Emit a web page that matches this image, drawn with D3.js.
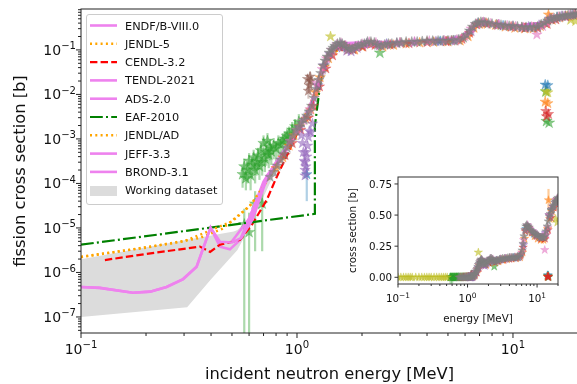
<!DOCTYPE html>
<html><head><meta charset="utf-8">
<script src="https://cdn.jsdelivr.net/npm/d3@7"></script>
<style>body{margin:0;background:#fff} text{font-family:"DejaVu Sans",sans-serif;fill:#111}</style>
</head><body><svg id="c" width="577" height="384"></svg>
<script>
// ---------- data (energy in MeV, cross section in b) ----------
const xTickExps = [-1, 0, 1];
const yTickExps = [-7, -6, -5, -4, -3, -2, -1];
const insetYTicks = [0, 0.25, 0.5, 0.75];
const evalNames = ['ENDF/B-VIII.0','JENDL-5','CENDL-3.2','TENDL-2021','ADS-2.0','EAF-2010','JENDL/AD','JEFF-3.3','BROND-3.1'];
const bandName = 'Working dataset';

// Working dataset uncertainty band
const fillE  = [0.1, 0.31, 0.4, 0.51, 0.53, 0.6, 0.7, 0.8, 1.0, 1.2, 1.5, 3, 6, 7, 12, 20];
const fillLo = [1.0e-7, 1.66e-7, 7e-7, 2.6e-6, 3.2e-6, 1e-5, 5e-5, 2e-4, 1.4e-3, 6e-3, 0.1, 0.13, 0.18, 0.38, 0.3, 0.58];
const fillHi = [1.98e-6, 5.4e-6, 6.8e-6, 8.3e-6, 9e-6, 1.6e-5, 1.2e-4, 3.4e-4, 2.2e-3, 1e-2, 0.13, 0.155, 0.23, 0.44, 0.34, 0.66];

// Evaluations
const endfE = [0.1,0.122,0.174,0.209,0.249,0.297,0.343,0.398,0.44,0.489,0.545,0.606,0.73,0.84,0.95,1.05,1.15,1.25,1.35,1.45,1.58,1.72,1.9,2.15,2.45,3,4,5,5.9,6.3,6.7,7.1,8,10,12,13,14,15,16,18,20];
const endfS = [4.7e-7,4.5e-7,3.5e-7,3.7e-7,4.7e-7,7.1e-7,1.35e-6,1.02e-5,3.8e-6,3.3e-6,5.4e-6,1.3e-5,1.55e-4,3.4e-4,1.0e-3,2.3e-3,4.5e-3,0.02,0.057,0.1,0.144,0.11,0.12,0.15,0.123,0.144,0.159,0.16,0.186,0.27,0.38,0.42,0.38,0.34,0.32,0.33,0.41,0.49,0.54,0.6,0.64];
const jendl5E = [0.1,0.2,0.355,0.45,0.505,0.56,0.624,0.7,0.83,0.95,1.1,1.25,1.4,1.6,2,3,5,6,7,10,14,20];
const jendl5S = [2.26e-6,3.6e-6,5.96e-6,9.5e-6,1.51e-5,2.3e-5,3.6e-5,9e-5,2.9e-4,9e-4,3e-3,0.02,0.08,0.14,0.13,0.145,0.16,0.2,0.41,0.34,0.41,0.64];
const cendlE = [0.129,0.2,0.355,0.396,0.44,0.545,0.62,0.725,0.8,0.91,1.0,1.2,1.4,1.6,2,3,5,6,7,10,14,20];
const cendlS = [1.9e-6,2.6e-6,3.8e-6,2.9e-6,4.2e-6,5.4e-6,1.2e-5,4.3e-5,1.3e-4,4.9e-4,1.3e-3,7.5e-3,0.08,0.14,0.13,0.145,0.16,0.2,0.41,0.34,0.41,0.64];
const tendlE = [0.5,0.6,0.7,0.8,0.9,1.0,1.2,1.4,1.6,2,3,5,6,7,10,14,20];
const tendlS = [5e-6,1.6e-5,1.1e-4,3e-4,7e-4,1.6e-3,8e-3,0.085,0.14,0.13,0.145,0.16,0.2,0.41,0.34,0.41,0.63];
const adsE = [0.55,0.65,0.75,0.85,1.0,1.2,1.4,1.6,2.2,3.5,5.5,6.5,7.2,9,12,15,20];
const adsS = [6e-6,4e-5,1.7e-4,4e-4,1.5e-3,7e-3,0.08,0.14,0.15,0.15,0.165,0.32,0.42,0.35,0.32,0.49,0.64];
const eafE = [0.1,1.21,1.21,1.3,1.45,1.6,2,3,5,6,7,10,14,20];
const eafS = [4.2e-6,2.07e-5,2.0e-3,0.03,0.1,0.14,0.13,0.145,0.16,0.2,0.41,0.34,0.41,0.64];
const jendlADE = [0.1,0.3,0.5,0.6,0.7,0.8,0.9,1.0,1.2,1.4,1.7,2.5,4,6,7,10,14,20];
const jendlADS = [2.2e-6,5e-6,1.4e-5,3e-5,8.5e-5,2.4e-4,6e-4,1.6e-3,8e-3,0.085,0.11,0.13,0.158,0.2,0.41,0.34,0.41,0.64];
const jeffE = [0.1,0.122,0.174,0.209,0.249,0.297,0.343,0.398,0.44,0.5,0.55,0.62,0.73,0.85,1.0,1.15,1.3,1.45,1.6,2,3,5,6,6.5,7,10,14,20];
const jeffS = [4.7e-7,4.5e-7,3.5e-7,3.7e-7,4.7e-7,7.1e-7,1.35e-6,1.02e-5,4.9e-6,4.7e-6,5.9e-6,1.5e-5,1.4e-4,3.6e-4,1.5e-3,4.8e-3,0.035,0.1,0.14,0.135,0.145,0.16,0.2,0.33,0.42,0.34,0.41,0.64];
const brondE = [0.6,0.7,0.8,0.9,1.0,1.1,1.3,1.5,1.8,2.5,4,6,6.8,8,11,14,20];
const brondS = [1.2e-5,9e-5,2.6e-4,6.5e-4,1.5e-3,3e-3,0.032,0.12,0.105,0.13,0.158,0.2,0.39,0.38,0.32,0.41,0.64];

// Experimental datasets
const greenE = [0.56,0.57,0.58,0.59,0.60,0.61,0.62,0.63,0.64,0.65,0.66,0.67,0.68,0.69,0.70,0.71,0.72,0.73,0.74,0.75,0.76,0.78,0.80,0.82,0.84,0.86,0.88,0.90,0.92,0.95,0.98,1.02,0.57,0.60,0.64,0.69,2.42,14.3,14.7,14.2];
const greenS = [1.6e-4,2.4e-4,1.3e-4,2.0e-4,3.2e-4,1.5e-4,2.6e-4,3.8e-4,2.0e-4,3.0e-4,4.2e-4,2.4e-4,5.5e-4,3.0e-4,8e-4,3.6e-4,5.0e-4,9e-4,4.4e-4,6.5e-4,5.2e-4,7e-4,6e-4,8e-4,7.5e-4,9e-4,1.0e-3,1.15e-3,1.3e-3,1.6e-3,1.9e-3,2.4e-3,1.2e-5,8e-6,3.5e-5,3.5e-5,0.086,0.0025,0.0023,0.0115];
const greenErr = [8e-5,1.2e-4,6e-5,1e-4,1.6e-4,8e-5,1.3e-4,1.9e-4,1e-4,1.5e-4,2.1e-4,1.2e-4,2.7e-4,1.5e-4,4e-4,1.8e-4,2.5e-4,4.5e-4,2.2e-4,3.2e-4,2.6e-4,3.5e-4,3e-4,4e-4,3.7e-4,4.5e-4,5e-4,5.5e-4,6e-4,8e-4,9e-4,1.2e-3,1.5e-5,1.4e-5,3.2e-5,3.2e-5,0,0,0,0];
const oliveE = [0.10,0.11,0.12,0.13,0.14,0.15,0.16,0.18,0.20,0.22,0.24,0.26,0.28,0.30,0.33,0.36,0.39,0.42,0.45,0.48,0.51,1.43,14.2,14.5,18.5,19.5];
const oliveS = [5e-9,5e-9,5e-9,5e-9,5e-9,5e-9,5e-9,5e-9,5e-9,5e-9,5e-9,5e-9,5e-9,5e-9,5e-9,5e-9,5e-9,5e-9,5e-9,5e-9,5e-9,0.2,0.0118,0.011,0.47,0.44];
const blueE = [1.11,1.6,2.6,4.6,6.9,9.0,12.0,16.0,14.1,14.5];
const blueS = [1.6e-4,0.13,0.135,0.156,0.39,0.35,0.32,0.54,0.0165,0.016];
const blueErr = [1.2e-4,0,0,0,0,0,0,0,0,0];
const brownE = [1.12,1.13,1.14,1.15,1.16,3.0,5.2,7.2,11,15];
const brownS = [0.022,0.012,0.016,0.025,0.02,0.145,0.16,0.41,0.32,0.5];
const brownErr = [0.006,0.004,0.005,0.007,0.006,0,0,0,0,0];
const orangeE = [0.80,0.86,0.92,0.97,1.03,1.10,1.16,1.22,1.28,1.34,1.40,1.48,1.56,1.64,1.72,1.85,2.0,2.2,2.5,2.8,3.2,3.7,4.3,5.0,5.7,6.2,6.6,7.0,7.6,8.3,9.2,10.2,11.3,12.4,13.4,14.2,15.2,16.4,17.8,19.2,14.1,14.5];
const orangeS = [2.2e-4,3.8e-4,7e-4,1.2e-3,1.9e-3,2.8e-3,4.5e-3,0.011,0.024,0.042,0.064,0.095,0.118,0.120,0.100,0.100,0.118,0.135,0.118,0.128,0.138,0.145,0.150,0.153,0.160,0.20,0.31,0.38,0.38,0.36,0.33,0.31,0.30,0.30,0.34,0.39,0.47,0.53,0.57,0.60,0.0068,0.0063];
const orange2E = [14.6];
const orange2S = [0.62];
const orange2Err = [0.09];
const purpleE = [1.03,1.05,1.06,1.07,1.08,1.09,1.09,1.09,1.10,1.10,1.11,1.12,1.13,1.14,1.16,1.18,1.25,1.33,1.42,1.52,1.62,1.70,1.78,1.90,2.1,2.4,2.9,3.5,4.4,5.4,6.4,7.3,8.6,10.0,11.8,13.2,14.8,16.8,18.8];
const purpleS = [1.8e-3,1.2e-3,8e-4,5e-4,3.2e-4,2e-4,1.5e-4,3e-4,2.4e-4,5e-4,4e-4,7e-4,1.1e-3,1.5e-3,1.4e-3,2.2e-3,0.016,0.045,0.080,0.115,0.112,0.095,0.092,0.11,0.14,0.125,0.14,0.148,0.155,0.16,0.26,0.41,0.37,0.34,0.33,0.36,0.50,0.57,0.62];
const pinkE = [0.93,1.0,1.07,1.15,1.24,1.31,1.37,1.45,1.53,1.60,1.68,1.77,1.88,2.0,2.16,2.32,2.6,3.0,3.5,4.1,4.8,5.5,6.0,6.4,6.8,7.3,7.9,8.6,9.4,10.3,11.2,12.2,12.9,13.7,14.3,15.3,16.3,17.3,18.3,19.3];
const pinkS = [9e-4,1.6e-3,2.6e-3,4.6e-3,0.018,0.037,0.064,0.10,0.132,0.142,0.125,0.108,0.12,0.135,0.15,0.145,0.133,0.145,0.152,0.158,0.162,0.168,0.20,0.30,0.38,0.42,0.39,0.37,0.35,0.335,0.32,0.33,0.22,0.34,0.40,0.50,0.55,0.57,0.60,0.63];
const redE = [0.88,0.95,1.04,1.13,1.19,1.27,1.36,1.46,1.57,1.67,1.82,2.02,2.3,2.7,3.3,4.0,4.9,5.8,6.3,6.8,7.5,8.5,9.8,11.4,13.0,14.4,15.8,17.5,19.5,14.2,14.6,14.3];
const redS = [4.3e-4,8e-4,1.6e-3,3e-3,5.5e-3,0.015,0.038,0.075,0.118,0.118,0.102,0.118,0.128,0.130,0.14,0.148,0.155,0.175,0.24,0.37,0.40,0.36,0.33,0.31,0.31,0.38,0.48,0.56,0.62,0.0042,0.0036,0.0032];
const grayE = [0.75,0.78,0.81,0.84,0.87,0.90,0.93,0.96,0.99,1.02,1.05,1.08,1.11,1.14,1.17,1.20,1.23,1.26,1.29,1.32,1.35,1.38,1.41,1.44,1.47,1.50,1.54,1.58,1.62,1.66,1.70,1.75,1.80,1.86,1.92,1.98,2.05,2.12,2.20,2.28,2.36,2.45,2.55,2.65,2.75,2.9,3.05,3.2,3.4,3.6,3.8,4.0,4.25,4.5,4.75,5.0,5.3,5.6,5.9,6.1,6.3,6.5,6.7,6.9,7.1,7.4,7.7,8.0,8.4,8.8,9.2,9.6,10.0,10.5,11.0,11.5,12.0,12.5,13.0,13.5,14.0,14.5,15.0,15.5,16.0,16.5,17.0,17.5,18.0,18.5,19.0,19.5,20.0];
const grayS = [1.4e-4,1.8e-4,2.5e-4,3.4e-4,4.6e-4,6.3e-4,8.5e-4,1.17e-3,1.52e-3,1.86e-3,2.3e-3,2.7e-3,3.3e-3,4.1e-3,5.5e-3,8.3e-3,0.0133,0.021,0.030,0.044,0.057,0.070,0.086,0.10,0.111,0.123,0.136,0.144,0.136,0.123,0.111,0.105,0.105,0.117,0.123,0.13,0.136,0.151,0.151,0.144,0.13,0.123,0.13,0.136,0.136,0.144,0.144,0.151,0.151,0.151,0.155,0.159,0.159,0.159,0.16,0.16,0.163,0.168,0.186,0.217,0.27,0.33,0.38,0.41,0.42,0.41,0.40,0.38,0.37,0.36,0.35,0.34,0.34,0.33,0.32,0.32,0.32,0.32,0.33,0.37,0.41,0.45,0.49,0.51,0.54,0.55,0.57,0.58,0.60,0.61,0.61,0.63,0.64];

// ---------- styles / layout ----------
const tab = {blue:'#1f77b4',orange:'#ff7f0e',green:'#2ca02c',red:'#d62728',purple:'#9467bd',brown:'#8c564b',pink:'#e377c2',gray:'#7f7f7f',olive:'#bcbd22'};
const evalData = [
  {E:endfE,S:endfS,color:'#ee82ee',w:2.6,dash:null},
  {E:jendl5E,S:jendl5S,color:'#ffa500',w:2.4,dash:'2,3.3'},
  {E:cendlE,S:cendlS,color:'#ff0000',w:2.2,dash:'7.4,3.2'},
  {E:tendlE,S:tendlS,color:'#ee82ee',w:2.6,dash:null},
  {E:adsE,S:adsS,color:'#ee82ee',w:2.6,dash:null},
  {E:eafE,S:eafS,color:'#008000',w:2.2,dash:'12.8,3.2,2,3.2'},
  {E:jendlADE,S:jendlADS,color:'#ffa500',w:2.4,dash:'2,3.3'},
  {E:jeffE,S:jeffS,color:'#ee82ee',w:2.6,dash:null},
  {E:brondE,S:brondS,color:'#ee82ee',w:2.6,dash:null}
];
const expData = [
  {E:oliveE,S:oliveS,Err:null,c:tab.olive},
  {E:blueE,S:blueS,Err:blueErr,c:tab.blue},
  {E:brownE,S:brownS,Err:brownErr,c:tab.brown},
  {E:orangeE,S:orangeS,Err:null,c:tab.orange},
  {E:orange2E,S:orange2S,Err:orange2Err,c:tab.orange},
  {E:redE,S:redS,Err:null,c:tab.red},
  {E:purpleE,S:purpleS,Err:null,c:tab.purple},
  {E:pinkE,S:pinkS,Err:null,c:tab.pink},
  {E:grayE,S:grayS,Err:null,c:tab.gray}
];

const svg = d3.select('#c');
const M = {l:81, r:578, t:9, b:333};
const x = d3.scaleLog().domain([0.1,20]).range([M.l,M.r]);
const y = d3.scaleLog().domain([4.36e-8,0.83]).range([M.b,M.t]);
const defs = svg.append('defs');
defs.append('clipPath').attr('id','mclip').append('rect').attr('x',M.l).attr('y',M.t).attr('width',M.r-M.l).attr('height',M.b-M.t);
defs.append('filter').attr('id','soft').attr('x','-5%').attr('y','-5%').attr('width','110%').attr('height','110%')
  .append('feGaussianBlur').attr('stdDeviation',0.55);

function drawErr(g, d, sx, sy, bottom, op){
  if(!d.Err) return;
  const idx = d3.range(d.E.length).filter(i=>d.Err[i]>0);
  g.append('g').selectAll('line').data(idx).join('line')
    .attr('x1',i=>sx(d.E[i])).attr('x2',i=>sx(d.E[i]))
    .attr('y1',i=>sy(d.S[i]+d.Err[i]))
    .attr('y2',i=>{const lo=d.S[i]-d.Err[i]; return lo>0? sy(lo) : bottom+20;})
    .attr('stroke',d.c).attr('stroke-width',2.2).attr('stroke-opacity',op);
}
function drawStars(g, d, sx, sy, size, op){
  const sym = d3.symbol(d3.symbolStar, size)();
  g.append('g').selectAll('path').data(d3.range(Math.min(d.E.length,d.S.length))).join('path')
    .attr('d',sym).attr('transform',i=>`translate(${sx(d.E[i])},${sy(d.S[i])})`)
    .attr('fill',d.c).attr('fill-opacity',op)
    .attr('stroke',d.c).attr('stroke-opacity',op*0.5).attr('stroke-width',1);
}
function supText(g, px, py, exp, size, anchor){
  const t = g.append('text').attr('x',px).attr('y',py).attr('text-anchor',anchor).attr('font-size',size);
  t.append('tspan').text('10');
  t.append('tspan').attr('dy',-size*0.42).attr('font-size',size*0.72).text(exp<0?'\u2212'+(-exp):String(exp));
}

// ---------- main plot ----------
const plot = svg.append('g').attr('clip-path','url(#mclip)');
plot.append('path').datum(d3.range(fillE.length))
  .attr('d', d3.area().x(i=>x(fillE[i])).y0(i=>y(fillLo[i])).y1(i=>y(fillHi[i])))
  .attr('fill','#dcdcdc');
const greenSet = {E:greenE,S:greenS,Err:greenErr,c:tab.green};
const gLayer = plot.append('g').attr('filter','url(#soft)');
drawErr(gLayer, greenSet, x, y, M.b, 0.4);
drawStars(gLayer, greenSet, x, y, 40, 0.55);
evalData.forEach(ev=>{
  plot.append('path').datum(d3.range(ev.E.length))
    .attr('d', d3.line().x(i=>x(ev.E[i])).y(i=>y(ev.S[i])))
    .attr('fill','none').attr('stroke',ev.color).attr('stroke-width',ev.w)
    .attr('stroke-dasharray',ev.dash);
});
const sLayer = plot.append('g').attr('filter','url(#soft)');
expData.forEach(d=>drawErr(sLayer,d,x,y,M.b,0.35));
expData.forEach(d=>drawStars(sLayer,d,x,y,34,d.c===tab.gray?0.7:0.6));

// axes
const ax = svg.append('g');
ax.append('rect').attr('x',M.l).attr('y',M.t).attr('width',M.r-M.l).attr('height',M.b-M.t)
  .attr('fill','none').attr('stroke','#222').attr('stroke-width',1);
const xMinor=[], yMinor=[];
for(let e=-1;e<=1;e++) for(let k=2;k<=9;k++){const v=k*Math.pow(10,e); if(v<=20) xMinor.push(v);}
for(let e=-8;e<=-1;e++) for(let k=2;k<=9;k++){const v=k*Math.pow(10,e); if(v>=4.36e-8&&v<=0.83) yMinor.push(v);}
ax.selectAll('.xm').data(xMinor).join('line').attr('x1',v=>x(v)).attr('x2',v=>x(v)).attr('y1',M.b).attr('y2',M.b+3).attr('stroke','#222');
ax.selectAll('.xM').data(xTickExps).join('line').attr('x1',e=>x(Math.pow(10,e))).attr('x2',e=>x(Math.pow(10,e))).attr('y1',M.b).attr('y2',M.b+5).attr('stroke','#222');
ax.selectAll('.ym').data(yMinor).join('line').attr('y1',v=>y(v)).attr('y2',v=>y(v)).attr('x1',M.l).attr('x2',M.l-3).attr('stroke','#222');
ax.selectAll('.yM').data(yTickExps).join('line').attr('y1',e=>y(Math.pow(10,e))).attr('y2',e=>y(Math.pow(10,e))).attr('x1',M.l).attr('x2',M.l-5).attr('stroke','#222');
xTickExps.forEach(e=>supText(ax, x(Math.pow(10,e)), 354, e, 14, 'middle'));
yTickExps.forEach(e=>supText(ax, 76, y(Math.pow(10,e))+5, e, 14, 'end'));
ax.append('text').attr('x',(M.l+M.r)/2).attr('y',379).attr('text-anchor','middle').attr('font-size',16.3).text('incident neutron energy [MeV]');
ax.append('text').attr('transform',`translate(25,${(M.t+M.b)/2}) rotate(-90)`).attr('text-anchor','middle').attr('font-size',16.3).text('fission cross section [b]');

// ---------- legend ----------
const lg = svg.append('g');
lg.append('rect').attr('x',86.5).attr('y',14.5).attr('width',136).attr('height',190).attr('rx',2.5)
  .attr('fill','#fff').attr('fill-opacity',0.8).attr('stroke','#cccccc');
evalNames.forEach((n,i)=>{
  const yy = 25.5 + i*18.3, ev = evalData[i];
  lg.append('line').attr('x1',90).attr('x2',117).attr('y1',yy).attr('y2',yy)
    .attr('stroke',ev.color).attr('stroke-width',ev.w).attr('stroke-dasharray',ev.dash);
  lg.append('text').attr('x',125).attr('y',yy+4).attr('font-size',11.3).text(n);
});
lg.append('rect').attr('x',90).attr('y',186).attr('width',27).attr('height',10).attr('fill','#dcdcdc');
lg.append('text').attr('x',125).attr('y',25.5+9*18.3+4).attr('font-size',11.3).text(bandName);

// ---------- inset ----------
const I = {l:398, r:558, t:177, b:284};
const ix = d3.scaleLog().domain([0.1,20]).range([I.l,I.r]);
const iy = d3.scaleLinear().domain([-0.054,0.806]).range([I.b,I.t]);
defs.append('clipPath').attr('id','iclip').append('rect').attr('x',I.l).attr('y',I.t).attr('width',I.r-I.l).attr('height',I.b-I.t);
const ig = svg.append('g');
ig.append('rect').attr('x',I.l).attr('y',I.t).attr('width',I.r-I.l).attr('height',I.b-I.t).attr('fill','#fff');
const ip = ig.append('g').attr('clip-path','url(#iclip)').append('g').attr('filter','url(#soft)');
drawErr(ip, greenSet, ix, iy, I.b, 0.35);
drawStars(ip, greenSet, ix, iy, 22, 0.6);
expData.forEach(d=>drawErr(ip,d,ix,iy,I.b,0.4));
expData.forEach(d=>drawStars(ip,d,ix,iy,22,d.c===tab.gray?0.7:0.6));
ig.append('rect').attr('x',I.l).attr('y',I.t).attr('width',I.r-I.l).attr('height',I.b-I.t)
  .attr('fill','none').attr('stroke','#333').attr('stroke-width',1);
ig.selectAll('.ixm').data(xMinor).join('line').attr('x1',v=>ix(v)).attr('x2',v=>ix(v)).attr('y1',I.b).attr('y2',I.b+2).attr('stroke','#333');
ig.selectAll('.ixM').data(xTickExps).join('line').attr('x1',e=>ix(Math.pow(10,e))).attr('x2',e=>ix(Math.pow(10,e))).attr('y1',I.b).attr('y2',I.b+3.5).attr('stroke','#333');
ig.selectAll('.iyM').data(insetYTicks).join('line').attr('y1',v=>iy(v)).attr('y2',v=>iy(v)).attr('x1',I.l).attr('x2',I.l-3.5).attr('stroke','#333');
xTickExps.forEach(e=>supText(ig, ix(Math.pow(10,e)), 302, e, 10.3, 'middle'));
insetYTicks.forEach(v=>ig.append('text').attr('x',I.l-6).attr('y',iy(v)+3.7).attr('text-anchor','end').attr('font-size',10.3).text(d3.format('.2f')(v)));
ig.append('text').attr('x',(I.l+I.r)/2).attr('y',322).attr('text-anchor','middle').attr('font-size',10.3).text('energy [MeV]');
ig.append('text').attr('transform',`translate(356,${(I.t+I.b)/2}) rotate(-90)`).attr('text-anchor','middle').attr('font-size',10.3).text('cross section [b]');
</script></body></html>
